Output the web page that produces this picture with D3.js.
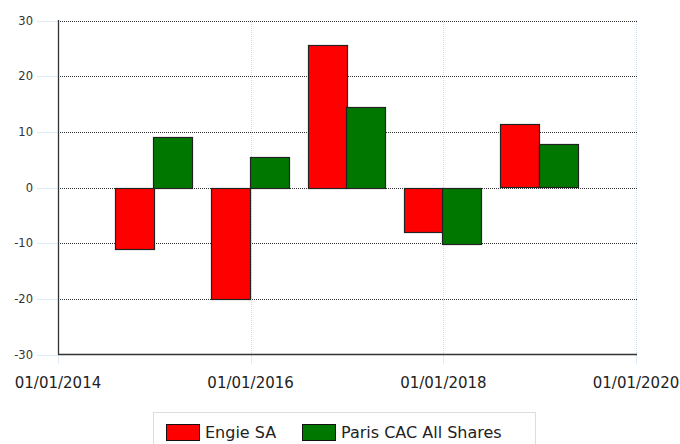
<!DOCTYPE html>
<html>
<meta charset="utf-8">
<style>
body { margin: 0; background: #fff; }
svg text { font-family: "DejaVu Sans", Verdana, sans-serif; }
</style>
<script src="https://d3js.org/d3.v7.min.js"></script>
<body>
<div id="chart"></div>
<script>
// data
var dates = ["2015-01-01", "2016-01-01", "2017-01-01", "2018-01-01", "2019-01-01"];
var engie = [-10.9, -19.9, 25.6, -7.9, 11.4];
var cac = [9.1, 5.5, 14.5, -10.0, 7.8];
var yTicks = [-30, -20, -10, 0, 10, 20, 30];
var xTicks = ["2014-01-01", "2016-01-01", "2018-01-01", "2020-01-01"];
var seriesNames = ["Engie SA", "Paris CAC All Shares"];
var seriesColors = ["#ff0000", "#007800"];

var width = 680, height = 444;
var parse = d3.timeParse("%Y-%m-%d");
var fmt = d3.timeFormat("%d/%m/%Y");

var svg = d3.select("#chart").append("svg")
    .attr("width", width)
    .attr("height", height);

var x = d3.scaleTime()
    .domain([parse("2014-01-01"), parse("2020-01-01")])
    .range([58, 636]);

var y = d3.scaleLinear()
    .domain([-30, 30])
    .range([354.5, 20.5]);

// vertical grid (light blue dotted)
svg.append("g").selectAll("line")
    .data(xTicks.slice(1))
    .enter().append("line")
    .attr("x1", function(d) { return Math.round(x(parse(d))) + 0.5; })
    .attr("x2", function(d) { return Math.round(x(parse(d))) + 0.5; })
    .attr("y1", 20)
    .attr("y2", 354)
    .attr("stroke", "#c9dcf2")
    .attr("stroke-dasharray", "1,1");

// horizontal grid
svg.append("g").selectAll("line")
    .data(yTicks.slice(1))
    .enter().append("line")
    .attr("x1", 58)
    .attr("x2", 637)
    .attr("y1", function(d) { return Math.round(y(d)) + 0.5; })
    .attr("y2", function(d) { return Math.round(y(d)) + 0.5; })
    .attr("stroke", "#333")
    .attr("stroke-dasharray", "1,1");

// y ticks + labels
var yg = svg.append("g");
yg.selectAll("line")
    .data(yTicks)
    .enter().append("line")
    .attr("x1", 37)
    .attr("x2", 58)
    .attr("y1", function(d) { return Math.round(y(d)) + 0.5; })
    .attr("y2", function(d) { return Math.round(y(d)) + 0.5; })
    .attr("stroke", "#deebf9");
yg.selectAll("text")
    .data(yTicks)
    .enter().append("text")
    .attr("x", 33)
    .attr("y", function(d) { return y(d) + 4; })
    .attr("text-anchor", "end")
    .attr("font-size", "11.5px")
    .attr("fill", "#333")
    .text(function(d) { return d; });

// x ticks + labels
var xg = svg.append("g");
xg.selectAll("line")
    .data(xTicks)
    .enter().append("line")
    .attr("x1", function(d) { return Math.round(x(parse(d))) + 0.5; })
    .attr("x2", function(d) { return Math.round(x(parse(d))) + 0.5; })
    .attr("y1", 354)
    .attr("y2", 364)
    .attr("stroke", "#deebf9");
xg.selectAll("text")
    .data(xTicks)
    .enter().append("text")
    .attr("x", function(d) { return x(parse(d)); })
    .attr("y", 388)
    .attr("text-anchor", "middle")
    .attr("font-size", "15px")
    .attr("fill", "#222")
    .text(function(d) { return fmt(parse(d)); });

// bars
var step = x(parse("2016-01-01")) - x(parse("2015-01-01"));
var bw = step * 0.4;
var series = [engie, cac];
series.forEach(function(vals, si) {
    svg.append("g").selectAll("rect")
        .data(vals)
        .enter().append("rect")
        .attr("x", function(d, i) {
            var cx = x(parse(dates[i]));
            return Math.round(si === 0 ? cx - bw : cx) - 0.5;
        })
        .attr("y", function(d) { return Math.round(y(Math.max(0, d))) + 0.5; })
        .attr("width", Math.round(bw))
        .attr("height", function(d) { return Math.round(Math.abs(y(d) - y(0))); })
        .attr("fill", seriesColors[si])
        .attr("stroke", "#222")
        .attr("stroke-width", 1.2);
});

// axes lines
svg.append("line")
    .attr("x1", 58.5).attr("x2", 58.5)
    .attr("y1", 20).attr("y2", 354.5)
    .attr("stroke", "#333").attr("stroke-width", 1.3);
svg.append("line")
    .attr("x1", 58).attr("x2", 637)
    .attr("y1", 354.5).attr("y2", 354.5)
    .attr("stroke", "#333").attr("stroke-width", 1.3);

// legend
var lg = svg.append("g");
lg.append("rect")
    .attr("x", 153.5).attr("y", 412.5)
    .attr("width", 382).attr("height", 40)
    .attr("fill", "#fff")
    .attr("stroke", "#ddd");
var legendX = [166, 302];
seriesNames.forEach(function(name, i) {
    lg.append("rect")
        .attr("x", legendX[i] + 0.5).attr("y", 424.5)
        .attr("width", 33).attr("height", 16)
        .attr("fill", seriesColors[i])
        .attr("stroke", "#111");
    lg.append("text")
        .attr("x", legendX[i] + 39)
        .attr("y", 438)
        .attr("font-size", "16px")
        .attr("fill", "#222")
        .text(name);
});
</script>
</body>
</html>
